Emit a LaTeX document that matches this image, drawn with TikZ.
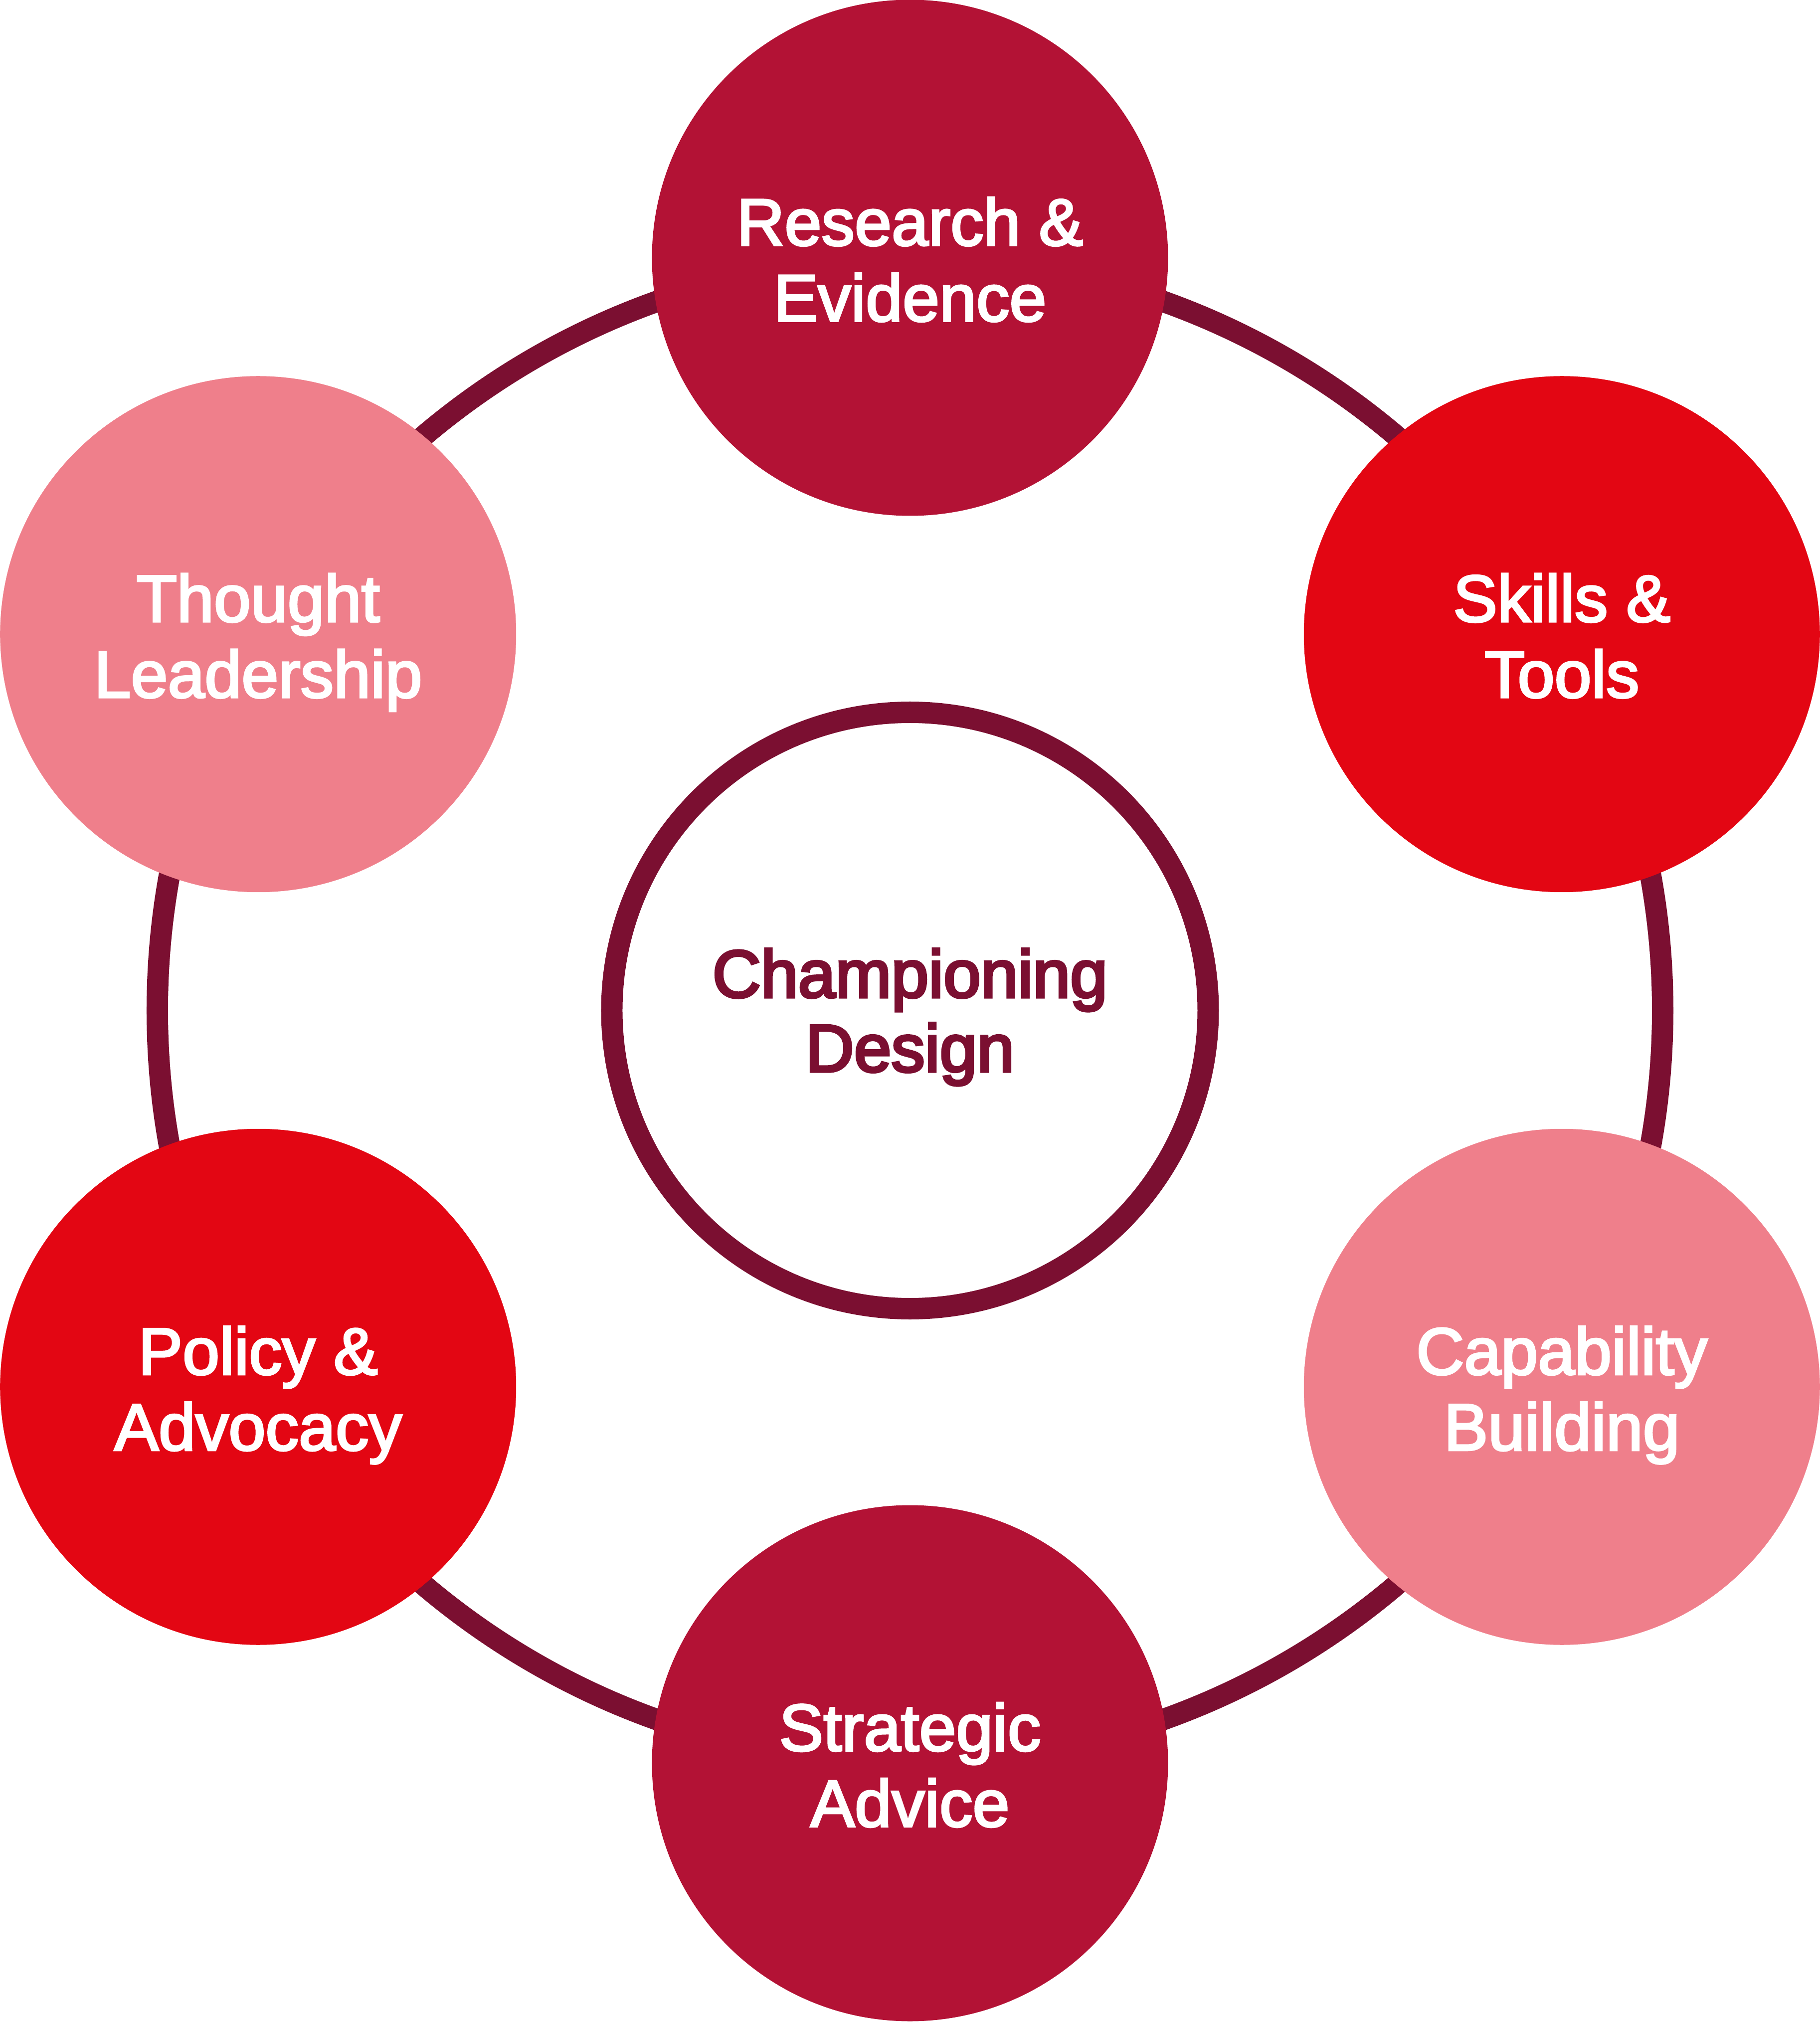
\documentclass[tikz,border=0pt]{standalone}
\usepackage{fontspec}
\newfontfamily\lblfont{Liberation Sans}[FakeBold=3]
\newfontfamily\hubfont{Liberation Sans}[FakeBold=4]
\definecolor{crimson}{HTML}{B31235}
\definecolor{brightred}{HTML}{E30613}
\definecolor{pinkc}{HTML}{EF7F8B}
\definecolor{maroon}{HTML}{7B0F31}
\tikzset{
  sat/.style={circle, draw=none, minimum size=207pt, inner sep=0pt},
  hubc/.style={circle, draw=maroon, line width=8.6pt, fill=white, minimum size=239.2pt, inner sep=0pt},
  ringline/.style={draw=maroon, line width=8.6pt},
  lbl/.style={anchor=base, inner sep=0pt, text=white, font=\lblfont\fontsize{26.6pt}{30.4pt}\selectfont},
  hublbl/.style={anchor=base, inner sep=0pt, text=maroon, font=\hubfont\fontsize{26.9pt}{30.4pt}\selectfont},
}
\begin{document}
\begin{tikzpicture}
\useasboundingbox (-365pt,-405.7pt) rectangle (365pt,405.3pt);
\coordinate (o) at (0,0);
\draw[ringline] (o) circle[radius=301.9pt];
\node[hubc] (hub) at (o) {};
\node[sat, fill=crimson]   (re) at (90:301.9pt) {};
\node[sat, fill=brightred] (sk) at (30:301.9pt) {};
\node[sat, fill=pinkc]     (ca) at (-30:301.9pt) {};
\node[sat, fill=crimson]   (st) at (-90:301.9pt) {};
\node[sat, fill=brightred] (po) at (-150:301.9pt) {};
\node[sat, fill=pinkc]     (th) at (150:301.9pt) {};
% labels
\node[lbl] (reA) at ([yshift=5pt]re.center) {Research \&};
\node[lbl] (reB) at ([yshift=-25.4pt]re.center) {Evidence};
\node[lbl] (skA) at ([yshift=5pt]sk.center) {Skills \&};
\node[lbl] (skB) at ([yshift=-25.4pt]sk.center) {Tools};
\node[lbl] (caA) at ([yshift=5pt]ca.center) {Capability};
\node[lbl] (caB) at ([yshift=-25.4pt]ca.center) {Building};
\node[lbl] (stA) at ([yshift=5pt]st.center) {Strategic};
\node[lbl] (stB) at ([yshift=-25.4pt]st.center) {Advice};
\node[lbl] (poA) at ([yshift=5pt]po.center) {Policy \&};
\node[lbl] (poB) at ([yshift=-25.4pt]po.center) {Advocacy};
\node[lbl] (thA) at ([yshift=5pt]th.center) {Thought};
\node[lbl] (thB) at ([yshift=-25.4pt]th.center) {Leadership};
\node[hublbl] (hubA) at ([yshift=5.3pt]hub.center) {Championing};
\node[hublbl] (hubB) at ([yshift=-24.5pt]hub.center) {Design};
\end{tikzpicture}
\end{document}
